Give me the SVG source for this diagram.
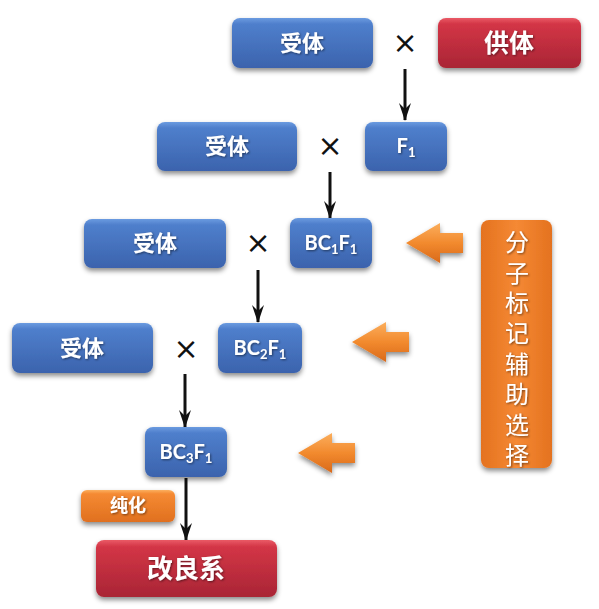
<svg xmlns="http://www.w3.org/2000/svg" width="599" height="609" viewBox="0 0 599 609">
<defs>
<linearGradient id="gBlue" x1="0" y1="0" x2="0" y2="1">
<stop offset="0" stop-color="#6b9be0"/>
<stop offset="0.12" stop-color="#4f7fcc"/>
<stop offset="1" stop-color="#3b63ad"/>
</linearGradient>
<linearGradient id="gRed" x1="0" y1="0" x2="0" y2="1">
<stop offset="0" stop-color="#ea5a66"/>
<stop offset="0.12" stop-color="#d33546"/>
<stop offset="1" stop-color="#a92535"/>
</linearGradient>
<linearGradient id="gOrange" x1="0" y1="0" x2="0" y2="1">
<stop offset="0" stop-color="#fbb060"/>
<stop offset="0.12" stop-color="#f58a33"/>
<stop offset="1" stop-color="#e0701f"/>
</linearGradient>
<linearGradient id="gOrangeV" x1="0" y1="0" x2="1" y2="0">
<stop offset="0" stop-color="#e4721f"/>
<stop offset="0.5" stop-color="#f58934"/>
<stop offset="1" stop-color="#e4721f"/>
</linearGradient>
<linearGradient id="gArrow" x1="0" y1="0" x2="0" y2="1">
<stop offset="0" stop-color="#fbae5c"/>
<stop offset="0.5" stop-color="#f28a2e"/>
<stop offset="1" stop-color="#d9691a"/>
</linearGradient>
<filter id="sh" x="-20%" y="-20%" width="140%" height="160%">
<feDropShadow dx="0" dy="3" stdDeviation="2.5" flood-color="#000" flood-opacity="0.45"/>
</filter>
<filter id="tsh" x="-20%" y="-20%" width="140%" height="160%">
<feDropShadow dx="1" dy="1" stdDeviation="0.8" flood-color="#000" flood-opacity="0.5"/>
</filter>
<marker id="ah" viewBox="0 0 18 12" refX="17" refY="6" markerWidth="18" markerHeight="12" markerUnits="userSpaceOnUse" orient="auto">
<path d="M0,0 L6,6 L0,12 L18,6 Z" fill="#111"/>
</marker>
<path id="oarrow" d="M0,0 L34,-20 L34,-10 L57,-10 L57,10 L34,10 L34,20 Z"/>
</defs>
<style>
.blue{fill:url(#gBlue);filter:url(#sh)}
.red{fill:url(#gRed);filter:url(#sh)}
.org{fill:url(#gOrange);filter:url(#sh)}
.t{font-family:"Noto Sans CJK SC","Noto Sans",sans-serif;font-weight:bold;fill:#fff;text-anchor:middle;filter:url(#tsh)}
.l{font-family:Lato,"Open Sans","Liberation Sans",sans-serif;font-weight:bold;fill:#fff;text-anchor:middle;font-size:20px;filter:url(#tsh)}
.x{font-family:"DejaVu Sans",sans-serif;font-size:30px;fill:#111;text-anchor:middle}
.conn{stroke:#111;stroke-width:3;fill:none;marker-end:url(#ah)}
.oa{fill:url(#gArrow);filter:url(#sh)}
.v{font-family:"Noto Sans CJK SC",sans-serif;font-size:24px;fill:#fff;writing-mode:vertical-rl;letter-spacing:6.4px;filter:url(#tsh)}
</style>
<rect width="599" height="609" fill="#fff"/>
<g id="connectors">
<line class="conn" x1="405" y1="69" x2="405" y2="120"/>
<line class="conn" x1="330" y1="172" x2="330" y2="218"/>
<line class="conn" x1="258" y1="270" x2="258" y2="322"/>
<line class="conn" x1="185" y1="374" x2="185" y2="427"/>
<line class="conn" x1="186" y1="478" x2="186" y2="540"/>
</g>
<g id="cross-marks">
<text class="x" x="405" y="53">×</text>
<text class="x" x="330" y="156">×</text>
<text class="x" x="258" y="253">×</text>
<text class="x" x="186" y="359">×</text>
</g>
<g id="recipient1"><rect class="blue" x="232" y="18" width="141" height="50" rx="8"/><text class="t" x="302" y="51" font-size="22">受体</text></g>
<g id="donor"><rect class="red" x="438" y="18" width="143" height="50" rx="8"/><text class="t" x="509" y="52" font-size="25">供体</text></g>
<g id="recipient2"><rect class="blue" x="157" y="122" width="140" height="49" rx="8"/><text class="t" x="227" y="154" font-size="22">受体</text></g>
<g id="F1"><rect class="blue" x="365" y="122" width="82" height="49" rx="8"/><text class="l" x="406" y="153">F<tspan font-size="13" dy="4">1</tspan></text></g>
<g id="recipient3"><rect class="blue" x="84" y="219" width="142" height="49" rx="8"/><text class="t" x="155" y="251" font-size="22">受体</text></g>
<g id="BC1F1"><rect class="blue" x="290" y="218" width="82" height="50" rx="8"/><text class="l" x="331" y="250">BC<tspan font-size="13" dy="4">1</tspan><tspan dy="-4">F</tspan><tspan font-size="13" dy="4">1</tspan></text></g>
<g id="recipient4"><rect class="blue" x="12" y="323" width="141" height="50" rx="8"/><text class="t" x="82" y="356" font-size="22">受体</text></g>
<g id="BC2F1"><rect class="blue" x="218" y="323" width="84" height="50" rx="8"/><text class="l" x="260" y="355">BC<tspan font-size="13" dy="4">2</tspan><tspan dy="-4">F</tspan><tspan font-size="13" dy="4">1</tspan></text></g>
<g id="BC3F1"><rect class="blue" x="145" y="427" width="82" height="50" rx="8"/><text class="l" x="186" y="459">BC<tspan font-size="13" dy="4">3</tspan><tspan dy="-4">F</tspan><tspan font-size="13" dy="4">1</tspan></text></g>
<g id="purify"><rect class="org" x="81" y="490" width="94" height="32" rx="6"/><text class="t" x="128" y="512" font-size="18" font-weight="normal">纯化</text></g>
<g id="improved-line"><rect class="red" x="96" y="540" width="181" height="57" rx="8"/><text class="t" x="186" y="578" font-size="26">改良系</text></g>
<g id="marker-assisted-selection">
<rect x="481" y="220" width="71" height="248" rx="8" fill="url(#gOrangeV)" filter="url(#sh)"/>
<text class="v" x="517" y="230">分子标记辅助选择</text>
</g>
<g id="orange-arrows">
<use href="#oarrow" class="oa" transform="translate(406,243)"/>
<use href="#oarrow" class="oa" transform="translate(352,342)"/>
<use href="#oarrow" class="oa" transform="translate(298,453)"/>
</g>
</svg>
